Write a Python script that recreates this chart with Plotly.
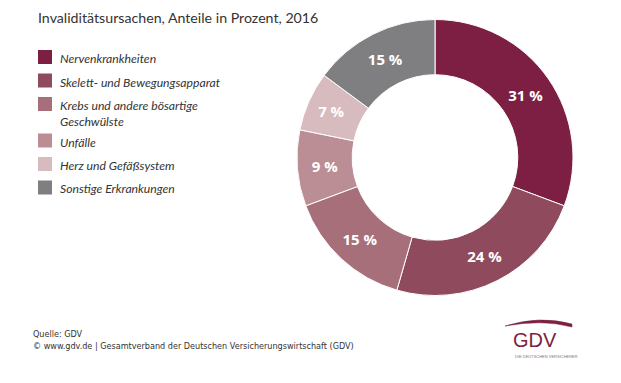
import plotly.graph_objects as go

# ---- data ----
categories = [
    "Nervenkrankheiten",
    "Skelett- und Bewegungsapparat",
    "Krebs und andere bösartige<br>Geschwülste",
    "Unfälle",
    "Herz und Gefäßsystem",
    "Sonstige Erkrankungen",
]
values = [31, 24, 15, 9, 7, 15]
colors = ["#7c1f42", "#8f4a5d", "#a76f7a", "#bb8e95", "#d7bbbe", "#7f7f81"]
value_labels = [f"{v} %" for v in values]

title_text = "Invaliditätsursachen, Anteile in Prozent, 2016"
source_lines = ["Quelle: GDV",
                "© www.gdv.de | Gesamtverband der Deutschen Versicherungswirtschaft (GDV)"]

W, H = 621, 383
OFF = 8  # page body margin offset of the plot div


def px(x):
    return (x - OFF) / W


def py(y):
    return 1 - (y - OFF) / H


# donut geometry (pixels)
cx, cy, R = 435, 157.5, 138

fig = go.Figure(
    go.Pie(
        labels=[c.replace("<br>", " ") for c in categories],
        values=values,
        text=value_labels,
        textinfo="text",
        textposition="inside",
        insidetextorientation="horizontal",
        hole=0.6,
        sort=False,
        direction="clockwise",
        rotation=0,
        marker=dict(colors=colors, line=dict(color="white", width=1)),
        textfont=dict(family="Open Sans", size=15, color="white", weight="bold"),
        domain=dict(x=[px(cx - R), px(cx + R)], y=[py(cy + R), py(cy - R)]),
        showlegend=False,
        hoverinfo="label+percent",
    )
)

shapes = []
annotations = []

# title
annotations.append(dict(
    x=px(37), y=py(8), xref="paper", yref="paper", xanchor="left", yanchor="top",
    text=title_text, showarrow=False, borderpad=0,
    font=dict(family="Lato", size=14.2, color="#333333"),
))

# legend (manual, to match spacing)
extra = 0
for i, (cat, col) in enumerate(zip(categories, colors)):
    yc = 57 + 23.5 * i + 13 * extra
    shapes.append(dict(
        type="rect", xref="paper", yref="paper",
        x0=px(38), x1=px(52), y0=py(yc + 7), y1=py(yc - 7),
        fillcolor=col, line=dict(width=0),
    ))
    annotations.append(dict(
        x=px(58), y=py(yc - 8), xref="paper", yref="paper",
        xanchor="left", yanchor="top", align="left",
        text=f"<i>{cat}</i>", showarrow=False,
        font=dict(family="Lato", size=12.2, color="#333333"),
    ))
    extra += cat.count("<br>")

# source lines
for j, line in enumerate(source_lines):
    annotations.append(dict(
        x=px(31), y=py(334 + 12 * j), xref="paper", yref="paper",
        xanchor="left", yanchor="middle", text=line, showarrow=False,
        font=dict(family="DejaVu Sans Condensed, sans-serif",
                  size=9, color="#333333"),
    ))

# GDV logo
logo_col = "#7c1f42"
annotations.append(dict(
    x=px(511), y=py(339.5), xref="paper", yref="paper", xanchor="left", yanchor="middle",
    text="GDV", showarrow=False,
    font=dict(family="Liberation Sans, sans-serif", size=20, color=logo_col),
))
annotations.append(dict(
    x=px(513), y=py(356), xref="paper", yref="paper", xanchor="left", yanchor="middle",
    text="DIE DEUTSCHEN VERSICHERER", showarrow=False,
    font=dict(family="Liberation Sans, sans-serif", size=4, color="#777777"),
))
p = lambda x, y: f"{px(x):.5f},{py(y):.5f}"
shapes.append(dict(
    type="path", xref="paper", yref="paper",
    path=(f"M{p(505, 326)} Q{p(540, 315)} {p(572, 324)} "
          f"L{p(572, 327)} Q{p(542, 319)} {p(505, 326)} Z"),
    fillcolor=logo_col, line=dict(width=0.5, color=logo_col),
))

fig.update_layout(
    width=W, height=H,
    margin=dict(l=0, r=0, t=0, b=0),
    paper_bgcolor="white", plot_bgcolor="white",
    shapes=shapes, annotations=annotations,
    showlegend=False,
)

fig.write_html("out.html")
